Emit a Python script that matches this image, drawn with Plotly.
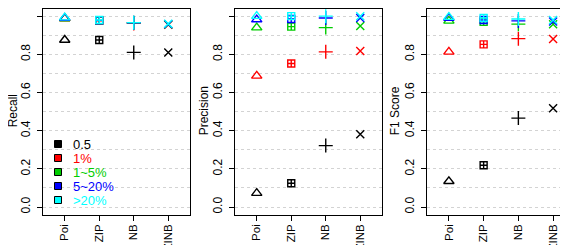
import plotly.graph_objects as go

models = ["Poi", "ZIP", "NB", "ZINB"]
groups = ["0.5", "1%", "1~5%", "5~20%", ">20%"]
group_colors = ["#000000", "#FF0000", "#00CD00", "#0000FF", "#00FFFF"]
metric_titles = ["Recall", "Precision", "F1 Score"]
y_tick_vals = [0.0, 0.2, 0.4, 0.6, 0.8, 1.0]
y_tick_text = ["0.0", "0.2", "0.4", "0.6", "0.8", "1.0"]

# Recall per group (Poi, ZIP, NB, ZINB)
recall_05 = [0.875, 0.875, 0.81, 0.81]
recall_1 = [0.988, 0.975, 0.962, 0.955]
recall_1_5 = [0.988, 0.978, 0.965, 0.956]
recall_5_20 = [0.99, 0.978, 0.965, 0.958]
recall_20 = [0.992, 0.98, 0.966, 0.96]

# Precision per group
precision_05 = [0.073, 0.125, 0.322, 0.381]
precision_1 = [0.687, 0.752, 0.813, 0.818]
precision_1_5 = [0.94, 0.945, 0.94, 0.948]
precision_5_20 = [0.982, 0.985, 0.99, 0.99]
precision_20 = [1.0, 1.0, 1.0, 1.0]

# F1 score per group
f1_05 = [0.135, 0.219, 0.466, 0.518]
f1_1 = [0.813, 0.852, 0.882, 0.88]
f1_1_5 = [0.975, 0.97, 0.958, 0.958]
f1_5_20 = [0.99, 0.98, 0.975, 0.972]
f1_20 = [0.995, 0.99, 0.985, 0.98]

metrics = [
    [recall_05, recall_1, recall_1_5, recall_5_20, recall_20],
    [precision_05, precision_1, precision_1_5, precision_5_20, precision_20],
    [f1_05, f1_1, f1_1_5, f1_5_20, f1_20],
]

W, H = 568, 245
FONT = "Liberation Sans, Arial, Helvetica, sans-serif"
symbols = ["triangle-up-open", "square-cross-open", "cross-thin-open", "x-thin-open"]
sizes = [9, 7, 10, 8]

panel_px = [(35, 182), (227, 374), (419, 567)]
box_top, box_bottom = 0.5, 206.7
ydom = [1 - box_bottom / H, 1 - box_top / H]
title_x = [5, 196, 387]

fig = go.Figure()
layout = dict(
    width=W, height=H, margin=dict(l=0, r=0, t=0, b=0),
    paper_bgcolor="white", plot_bgcolor="white", showlegend=False,
    font=dict(family=FONT, size=12, color="black"),
)
annotations = []
shapes = []

for p in range(3):
    ax = "" if p == 0 else str(p + 1)
    for g in range(len(groups)):
        c = group_colors[g]
        fig.add_trace(go.Scatter(
            x=[1, 2, 3, 4], y=metrics[p][g], mode="markers",
            xaxis="x" + ax, yaxis="y" + ax,
            marker=dict(symbol=symbols, size=sizes, color=c, opacity=1,
                        line=dict(color=c, width=1.4)),
            hoverinfo="skip",
        ))
    l, r = panel_px[p]
    layout["xaxis" + ax] = dict(
        domain=[l / W, r / W], range=[0.37, 4.63], anchor="y" + ax,
        tickmode="array", tickvals=[1, 2, 3, 4], ticktext=models,
        tickangle=-90, ticks="outside", ticklen=5, tickcolor="black",
        ticklabelstandoff=-1,
        showline=True, mirror=True, linecolor="black", linewidth=1,
        showgrid=False, zeroline=False, fixedrange=True,
        tickfont=dict(family=FONT, size=11.5, color="black"),
    )
    layout["yaxis" + ax] = dict(
        domain=ydom, range=[-0.04, 1.04], anchor="x" + ax,
        tickmode="array", tickvals=y_tick_vals, ticktext=y_tick_text,
        tickangle=-90, ticks="outside", ticklen=5, tickcolor="black",
        ticklabelstandoff=2,
        showline=True, mirror=True, linecolor="black", linewidth=1,
        showgrid=True, gridcolor="#D3D3D3", griddash="dot", gridwidth=1,
        minor=dict(dtick=0.1, tick0=0, showgrid=True, gridcolor="#D3D3D3",
                   griddash="dot", gridwidth=1, ticks=""),
        zeroline=False, fixedrange=True,
        tickfont=dict(family=FONT, size=12, color="black"),
    )
    annotations.append(dict(
        text=metric_titles[p], xref="paper", yref="paper",
        x=title_x[p] / W, y=1 - (box_bottom / 2) / H, textangle=-90,
        showarrow=False, xanchor="center", yanchor="middle", borderpad=0,
        font=dict(family=FONT, size=12, color="black"),
    ))

# legend (inside first panel)
leg_rows = [136, 150, 164, 178, 192]
for g in range(len(groups)):
    yc = leg_rows[g]
    shapes.append(dict(
        type="rect", xref="paper", yref="paper",
        x0=46.5 / W, x1=53.5 / W, y0=1 - (yc + 3.5) / H, y1=1 - (yc - 3.5) / H,
        fillcolor=group_colors[g], line=dict(color="black", width=1),
    ))
    annotations.append(dict(
        text=groups[g], xref="paper", yref="paper",
        x=63 / W, y=1 - yc / H, showarrow=False,
        xanchor="left", yanchor="middle",
        font=dict(family=FONT, size=13, color=group_colors[g]),
    ))

layout["annotations"] = annotations
layout["shapes"] = shapes
fig.update_layout(**layout)
fig.write_html("out.html")
